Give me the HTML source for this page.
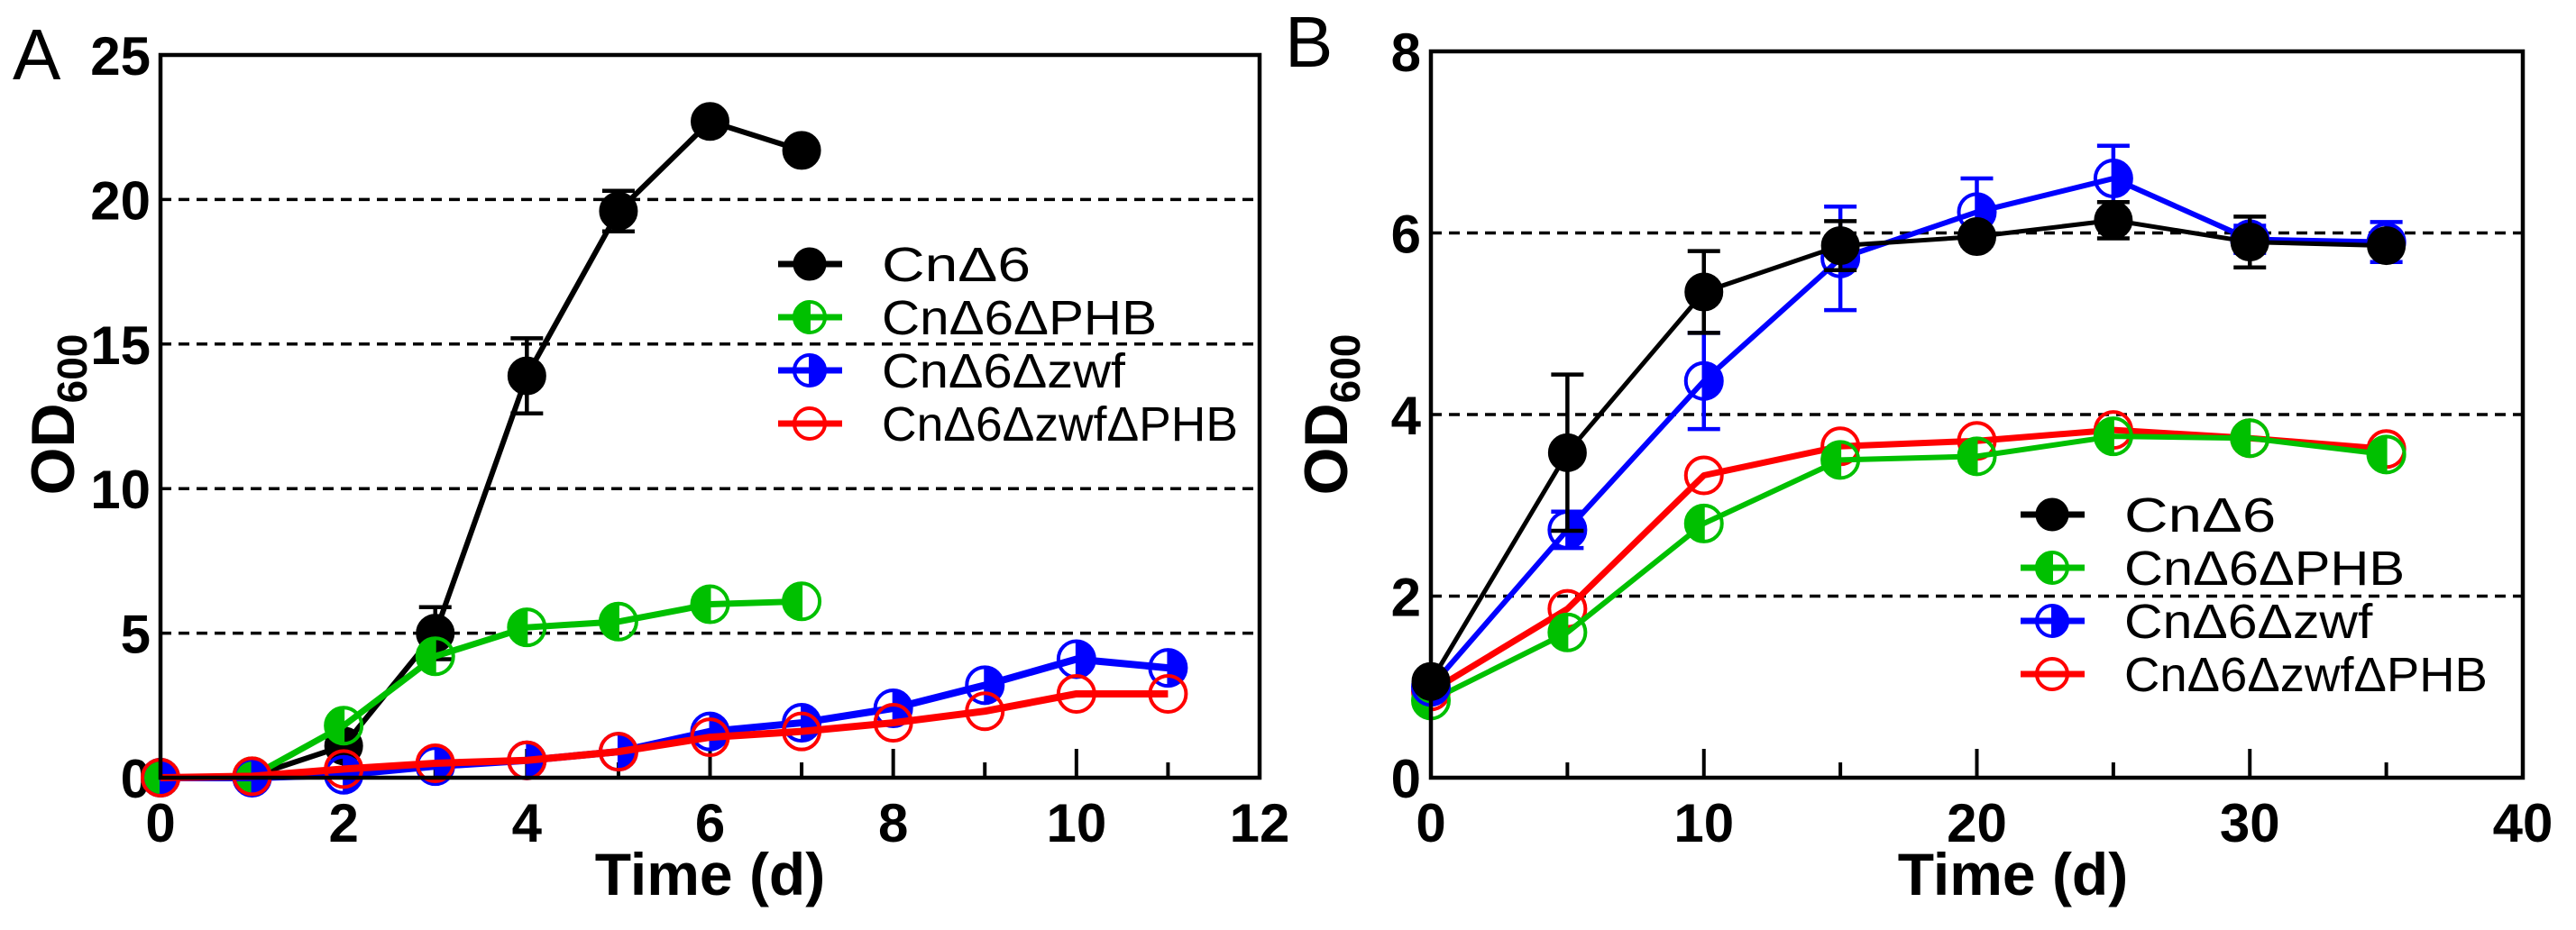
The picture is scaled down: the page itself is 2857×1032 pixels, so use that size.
<!DOCTYPE html>
<html><head><meta charset="utf-8"><style>
html,body{margin:0;padding:0;background:#fff;}
svg{display:block;}
text{font-family:"Liberation Sans",Arial,sans-serif;}
</style></head>
<body>
<svg id="fig" width="2857" height="1032" viewBox="0 0 2857 1032" xmlns="http://www.w3.org/2000/svg">
<text x="14" y="88" font-size="80">A</text>
<text x="1425" y="74" font-size="80">B</text>
</svg>
<script>
// ---------- Panel A data ----------
const aXticks = [0,2,4,6,8,10,12];
const aYticks = [0,5,10,15,20,25];
const aGrid = [5,10,15,20];
const aDaysLong = [0,1,2,3,4,5,6,7];
const aDaysFull = [0,1,2,3,4,5,6,7,8,9,10,11];
const aBlack = [0,0.05,1.1,5.0,13.9,19.6,22.7,21.7];
const aBlackErr = [0,0,0,0.9,1.3,0.7,0,0];
const aGreen = [0,0.05,1.8,4.2,5.2,5.4,6.0,6.1];
const aBlue = [0,0,0.1,0.4,0.6,0.9,1.6,1.9,2.4,3.2,4.1,3.8];
const aRed = [0,0.05,0.3,0.5,0.6,0.9,1.4,1.6,1.9,2.3,2.9,2.9];
// ---------- Panel B data ----------
const bXticks = [0,10,20,30,40];
const bYticks = [0,2,4,6,8];
const bGrid = [2,4,6];
const bDays = [0,5,10,15,20,25,30,35];
const bBlack = [1.06,3.58,5.35,5.86,5.96,6.14,5.9,5.86];
const bBlackErr = [0,0.86,0.45,0.27,0,0.2,0.28,0];
const bBlue = [1.0,2.73,4.37,5.72,6.23,6.6,5.93,5.9];
const bBlueErr = [0,0.2,0.53,0.57,0.37,0.36,0.15,0.22];
const bRed = [0.95,1.86,3.33,3.65,3.71,3.83,3.74,3.62];
const bGreen = [0.85,1.6,2.8,3.5,3.54,3.76,3.74,3.56];
const legendLabels = ["CnΔ6","CnΔ6ΔPHB","CnΔ6Δzwf","CnΔ6ΔzwfΔPHB"];

const NS="http://www.w3.org/2000/svg";
const svg=document.getElementById('fig');
function mk(tag,attrs,parent){const e=document.createElementNS(NS,tag);for(const k in attrs)e.setAttribute(k,attrs[k]);(parent||svg).appendChild(e);return e;}

function marker(g,cx,cy,r,type,color){
  if(type==='full'){const c=mk('circle',{cx,cy,r,fill:color,stroke:color,'stroke-width':3},g);return c;}
  const c=mk('circle',{cx,cy,r,fill:'none',stroke:color,'stroke-width':4},g);
  if(type==='left'){mk('path',{d:`M${cx},${cy-r} A${r},${r} 0 0 0 ${cx},${cy+r} Z`,fill:color,stroke:color,'stroke-width':2},g);}
  if(type==='right'){mk('path',{d:`M${cx},${cy-r} A${r},${r} 0 0 1 ${cx},${cy+r} Z`,fill:color,stroke:color,'stroke-width':2},g);}
  return c;
}

function panel(P){
  const sx=v=>P.L+(v-P.x0)*(P.R-P.L)/(P.x1-P.x0);
  const sy=v=>P.B-(v-P.y0)*(P.B-P.T)/(P.y1-P.y0);
  const g=mk('g',{});
  
  
  P.grid.forEach(v=>{const l=mk('line',{x1:P.L,x2:P.R,y1:sy(v),y2:sy(v),stroke:'#000','stroke-width':3.5,'stroke-dasharray':'12,8'},g);
    
    });
  for(let v=P.x0+P.minor;v<P.x1;v+=P.minor){
    const major=Math.abs((v/P.major)-Math.round(v/P.major))<1e-6;
    const t=mk('line',{x1:sx(v),x2:sx(v),y1:P.B,y2:P.B-(major?32:17),stroke:'#000','stroke-width':4},g);
    
    
  }
  P.xticks.forEach(v=>{const t=mk('text',{x:sx(v),y:934,'font-size':60,'font-weight':'bold','text-anchor':'middle'},g);t.textContent=v;
    
    });
  P.yticks.forEach(v=>{const t=mk('text',{x:P.L-11,y:sy(v)+22,'font-size':60,'font-weight':'bold','text-anchor':'end'},g);t.textContent=v;
    
    });
  const xt=mk('text',{x:(P.L+P.R)/2+P.xtOff,y:993,'font-size':66,'font-weight':'bold','text-anchor':'middle'},g);xt.textContent='Time (d)';
  
  
  const yt=mk('text',{x:0,y:0,'font-size':68,'font-weight':'bold','text-anchor':'middle',transform:`translate(${P.ytX},460) rotate(-90)`},g);
  
  
  const t1=mk('tspan',{},yt);t1.textContent='OD';
  const t2=mk('tspan',{'font-size':46,dy:14},yt);t2.textContent='600';
  P.series.forEach(s=>{
    const sg=mk('g',{},g);
    
    
    const pts=s.x.map((xv,i)=>sx(xv)+','+sy(s.y[i])).join(' ');
    const pl=mk('polyline',{points:pts,fill:'none',stroke:s.color,'stroke-width':s.lw,'stroke-linejoin':'round'},sg);
    
    
    if(s.err){s.err.forEach((e,i)=>{if(!e)return;const x=sx(s.x[i]),y1=sy(s.y[i]+e),y2=sy(s.y[i]-e);
      const eb=mk('path',{d:`M${x},${y1}V${y2}M${x-18},${y1}H${x+18}M${x-18},${y2}H${x+18}`,stroke:s.color,'stroke-width':4.5,fill:'none'},sg);
      
      });}
    s.x.forEach((xv,i)=>{const m=marker(sg,sx(xv),sy(s.y[i]),20,s.type,s.color);
      
      });
  });
  const fr=mk('rect',{x:P.L,y:P.T,width:P.R-P.L,height:P.B-P.T,fill:'none',stroke:'#000','stroke-width':4.5},g);
  
  
  const lg=mk('g',{},g);
  
  
  const legSpec=[['black','full'],['#00c000','left'],['#0000ff','right'],['#ff0000','open']];
  const legW=[165,305,270,395];
  legSpec.forEach((sp,i)=>{const y=P.legY+i*59;
    const e=mk('g',{},lg);
    
    
    mk('line',{x1:P.legX,x2:P.legX+71,y1:y,y2:y,stroke:sp[0],'stroke-width':7},e);
    marker(e,P.legX+35,y,17,sp[1],sp[0]);
    const t=mk('text',{x:P.legX+115,y:y+19,'font-size':54,textLength:legW[i]*P.legS,lengthAdjust:'spacingAndGlyphs'},e);t.textContent=legendLabels[i];
  });
}

panel({id:'panel-a',L:178,R:1397,T:61,B:863,x0:0,x1:12,y0:0,y1:25,minor:1,major:2,
  xticks:aXticks,yticks:aYticks,grid:aGrid,xtOff:0,ytX:82,legX:863,legY:293,legS:1,
  series:[
    {name:'cn-d6',x:aDaysLong,y:aBlack,err:aBlackErr,color:'#000',type:'full',lw:6},
    {name:'cn-d6-dphb',x:aDaysLong,y:aGreen,color:'#00c000',type:'left',lw:7},
    {name:'cn-d6-dzwf',x:aDaysFull,y:aBlue,color:'#0000ff',type:'right',lw:8},
    {name:'cn-d6-dzwf-dphb',x:aDaysFull,y:aRed,color:'#ff0000',type:'open',lw:8}
  ]});
panel({id:'panel-b',L:1587,R:2798,T:57,B:863,x0:0,x1:40,y0:0,y1:8,minor:5,major:10,
  xticks:bXticks,yticks:bYticks,grid:bGrid,xtOff:40,ytX:1494,legX:2241,legY:571,legS:1.02,
  series:[
    {name:'cn-d6-dzwf-dphb',x:bDays,y:bRed,color:'#ff0000',type:'open',lw:7},
    {name:'cn-d6-dphb',x:bDays,y:bGreen,color:'#00c000',type:'left',lw:6},
    {name:'cn-d6-dzwf',x:bDays,y:bBlue,err:bBlueErr,color:'#0000ff',type:'right',lw:6},
    {name:'cn-d6',x:bDays,y:bBlack,err:bBlackErr,color:'#000',type:'full',lw:5}
  ]});
</script>
</body></html>
